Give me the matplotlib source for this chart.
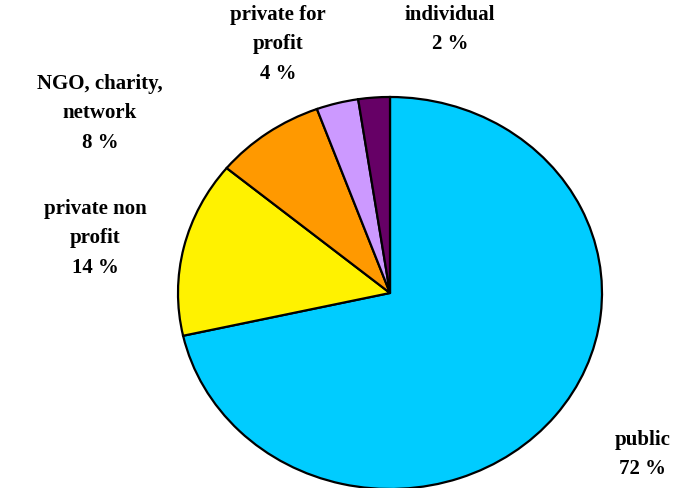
import matplotlib
matplotlib.use("Agg")
import matplotlib.pyplot as plt

# data (clockwise from 12 o'clock)
categories = ["public", "private non\nprofit", "NGO, charity,\nnetwork", "private for\nprofit", "individual"]
shares = [71.5, 14.5, 8.4, 3.2, 2.4]
pct_labels = ["72 %", "14 %", "8 %", "4 %", "2 %"]
colors = ["#00CCFF", "#FFF200", "#FF9900", "#CC99FF", "#660066"]

W, H = 685, 488
fig = plt.figure(figsize=(W / 100, H / 100), dpi=100)

# pie bounding box in pixels (slightly elliptic like the original)
cx, cy, rx, ry = 390, 293, 212, 196
ax = fig.add_axes([(cx - rx) / W, (H - cy - ry) / H, 2 * rx / W, 2 * ry / H])
ax.pie(shares, colors=colors, startangle=90, counterclock=False,
       wedgeprops=dict(edgecolor="black", linewidth=1.6))
ax.set_aspect("auto")
ax.set_xlim(-1, 1)
ax.set_ylim(-1, 1)
ax.axis("off")

# label centres in pixels (top of first line)
label_pos = [(643, 430), (95, 199), (100, 74), (278, 5), (450, 5)]

def px2data(px, py):
    return (px - cx) / rx, (cy - py) / ry

for cat, pct, (px, py) in zip(categories, pct_labels, label_pos):
    x, y = px2data(px, py)
    ax.text(x, y, cat + "\n" + pct, ha="center", va="top", fontsize=15,
            fontweight="bold", family="Liberation Serif", linespacing=1.63,
            clip_on=False)

fig.savefig("out.png", dpi=100)
